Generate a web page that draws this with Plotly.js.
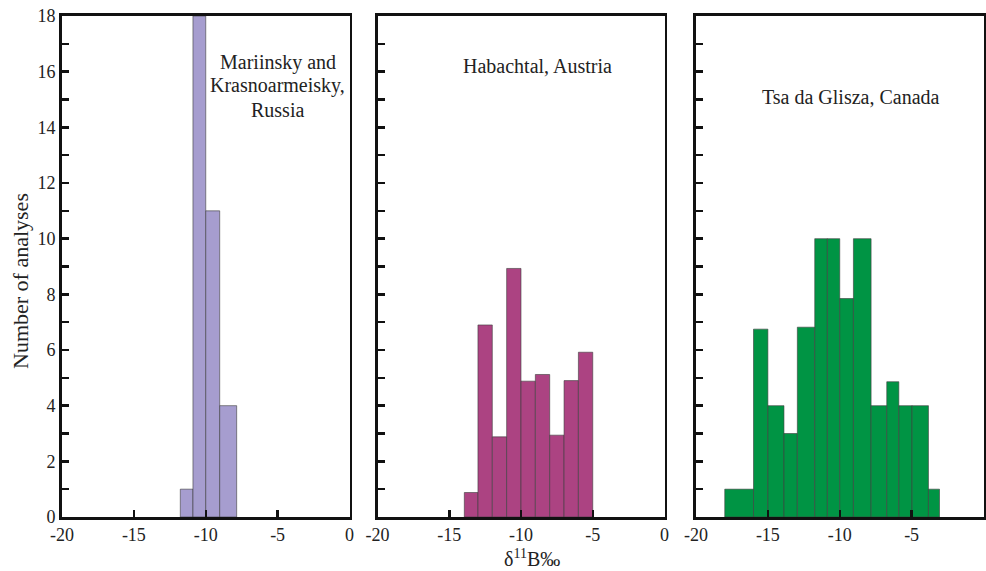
<!DOCTYPE html>
<html>
<head>
<meta charset="utf-8">
<script src="https://cdn.plot.ly/plotly-3.0.1.min.js"></script>
<style>html,body{margin:0;padding:0;background:#fff;}#chart{width:986px;height:571px;}</style>
</head>
<body>
<div id="chart"></div>
<script>
// Mariinsky and Krasnoarmeisky, Russia
const binLeft1 = [-11.77, -10.89, -10.0, -9.03];
const binRight1 = [-10.89, -10.0, -9.03, -7.85];
const counts1 = [1, 18, 11, 4];

// Habachtal, Austria
const binLeft2 = [-13.95, -13, -12, -11, -10, -9, -8, -7, -6];
const binRight2 = [-13, -12, -11, -10, -9, -8, -7, -6, -5];
const counts2 = [0.88, 6.9, 2.88, 8.93, 4.88, 5.12, 2.94, 4.9, 5.92];

// Tsa da Glisza, Canada
const binLeft3 = [-18, -16, -15, -13.88, -12.95, -11.74, -10.86, -10.0, -9.05, -7.82, -6.73, -5.89, -4.97, -3.83];
const binRight3 = [-16, -15, -13.88, -12.95, -11.74, -10.86, -10.0, -9.05, -7.82, -6.73, -5.89, -4.97, -3.83, -3.06];
const counts3 = [1, 6.75, 4, 3, 6.82, 10, 10, 7.85, 10, 4, 4.86, 4, 4, 1];

const panelNames = ["Mariinsky and<br>Krasnoarmeisky,<br>Russia", "Habachtal, Austria", "Tsa da Glisza, Canada"];
const xTickVals = [-20, -15, -10, -5, 0];
const xTickText = ["-20", "-15", "-10", "-5", "0"];
const yTitle = "Number of analyses";
const xTitle = "δ<sup>11</sup>B‰";

const W = 986, H = 571;
const FONT = "Liberation Serif, Times New Roman, serif";
const colors = ["#a69dcf", "#ac4382", "#009444"];

function barTrace(lefts, rights, counts, color, axId) {
  return {
    type: "bar",
    x: lefts.map((l, i) => (l + rights[i]) / 2),
    width: lefts.map((l, i) => rights[i] - l),
    y: counts,
    base: 0,
    marker: { color: color, line: { color: "rgba(60,60,60,0.75)", width: 0.8 } },
    xaxis: "x" + axId,
    yaxis: "y" + axId,
    hoverinfo: "x+y",
    showlegend: false
  };
}

const data = [
  barTrace(binLeft1, binRight1, counts1, colors[0], ""),
  barTrace(binLeft2, binRight2, counts2, colors[1], "2"),
  barTrace(binLeft3, binRight3, counts3, colors[2], "3")
];

const xDomPx = [[62, 349.5], [377.5, 664.5], [696, 983.5]];
const yDomPx = [16, 517];
const yDom = [1 - yDomPx[1] / H, 1 - yDomPx[0] / H];

function xAxis(i) {
  return {
    domain: [xDomPx[i][0] / W, xDomPx[i][1] / W],
    range: [-20, 0],
    anchor: i === 0 ? "y" : "y" + (i + 1),
    tickmode: "array",
    tickvals: xTickVals,
    ticktext: xTickText,
    ticks: "inside",
    ticklen: 7,
    tickwidth: 2.5,
    tickcolor: "#111",
    showline: true,
    linecolor: "#111",
    linewidth: 2.8,
    mirror: true,
    showgrid: false,
    zeroline: false,
    fixedrange: true,
    tickfont: { family: FONT, size: 18, color: "#222" }
  };
}
function yAxis(i) {
  return {
    domain: yDom,
    range: [0, 18],
    anchor: i === 0 ? "x" : "x" + (i + 1),
    tick0: 0,
    dtick: 2,
    ticks: "inside",
    ticklen: 7,
    tickwidth: 2.5,
    tickcolor: "#111",
    minor: { dtick: 1, tick0: 0, ticks: "inside", ticklen: 7, tickwidth: 2.5, tickcolor: "#111", showgrid: false },
    showticklabels: i === 0,
    showline: true,
    linecolor: "#111",
    linewidth: 2.8,
    mirror: true,
    showgrid: false,
    zeroline: false,
    fixedrange: true,
    tickfont: { family: FONT, size: 18, color: "#222" }
  };
}

const labelLines1 = panelNames[0].split("<br>");
const annotations = [];
const line1Y = [62.5, 85.5, 109.5];
labelLines1.forEach((t, k) => annotations.push({
  xref: "paper", yref: "paper", x: 277.5 / W, y: 1 - line1Y[k] / H,
  xanchor: "center", yanchor: "middle", showarrow: false, text: t,
  font: { family: FONT, size: 20, color: "#222" }
}));
annotations.push({
  xref: "paper", yref: "paper", x: 537 / W, y: 1 - 66 / H,
  xanchor: "center", yanchor: "middle", showarrow: false, text: panelNames[1],
  font: { family: FONT, size: 20, color: "#222" }
});
annotations.push({
  xref: "paper", yref: "paper", x: 850.5 / W, y: 1 - 97 / H,
  xanchor: "center", yanchor: "middle", showarrow: false, text: panelNames[2],
  font: { family: FONT, size: 20, color: "#222" }
});
annotations.push({
  xref: "paper", yref: "paper", x: 20 / W, y: 1 - 281 / H,
  xanchor: "center", yanchor: "middle", showarrow: false, text: yTitle, textangle: -90,
  font: { family: FONT, size: 22, color: "#222" }
});
annotations.push({
  xref: "paper", yref: "paper", x: 532 / W, y: 0,
  xanchor: "center", yanchor: "bottom", showarrow: false, text: xTitle,
  borderpad: 0,
  font: { family: FONT, size: 20, color: "#222" }
});

const layout = {
  width: W, height: H, autosize: false,
  margin: { l: 0, r: 0, t: 0, b: 0, pad: 0 },
  paper_bgcolor: "#ffffff", plot_bgcolor: "#ffffff",
  bargap: 0,
  showlegend: false,
  xaxis: xAxis(0), xaxis2: xAxis(1), xaxis3: xAxis(2),
  yaxis: yAxis(0), yaxis2: yAxis(1), yaxis3: yAxis(2),
  annotations: annotations
};

Plotly.newPlot("chart", data, layout, { displayModeBar: false, staticPlot: true });
</script>
</body>
</html>
